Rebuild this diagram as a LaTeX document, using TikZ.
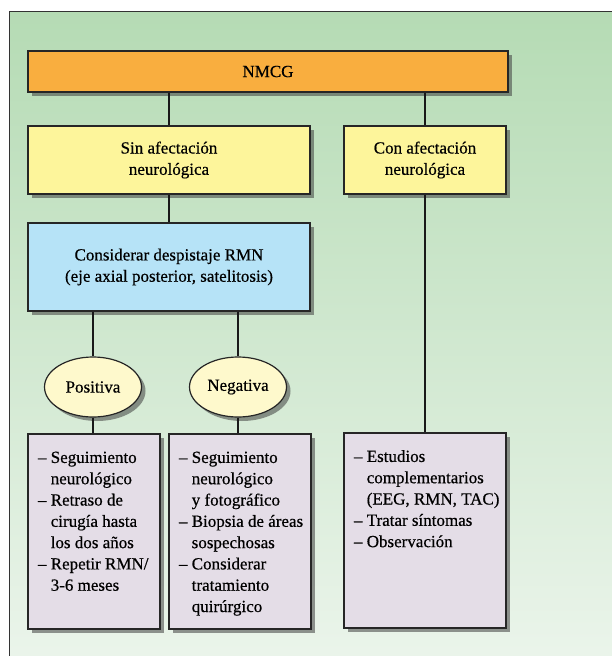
\documentclass[tikz,border=0pt]{standalone}
\usepackage{fontspec}
\setmainfont{Liberation Serif}[FakeBold=0.5]
\usetikzlibrary{shapes.geometric,shadows}

\definecolor{naranja}{HTML}{F9AE3F}
\definecolor{amarillo}{HTML}{FDF59B}
\definecolor{celeste}{HTML}{B6E3F7}
\definecolor{crema}{HTML}{FEF9CC}
\definecolor{lila}{HTML}{E4DDE7}
\definecolor{verdearriba}{HTML}{B5DBB4}
\definecolor{verdeabajo}{HTML}{EEF6EE}

\tikzset{
  sombra/.style={drop shadow={shadow xshift=4pt, shadow yshift=-4pt, opacity=.55, fill=black!75}},
  caja/.style={rectangle, draw=black!85, line width=1.2pt, align=center, sombra},
  ovalo/.style={ellipse, draw=black!85, line width=1.2pt, fill=crema,
    minimum width=97pt, minimum height=60pt, inner sep=0pt, sombra},
  lista/.style={caja, fill=lila, minimum height=195pt, inner xsep=10pt, inner ysep=0pt},
  linea/.style={line width=2pt, black!90}
}

\newcommand{\puntos}[2]{\parbox[c][195pt][t]{#1}{\vspace{14pt}\begin{tabular}{@{}l@{\ }l@{}}#2\end{tabular}}}

\begin{document}
\begin{tikzpicture}[x=1pt, y=-1pt, font=\fontsize{17}{21.3}\selectfont]

\useasboundingbox (0,0) rectangle (612,656);
\clip (0,0) rectangle (612,656);
\draw[top color=verdearriba, bottom color=verdeabajo, draw=black!80, line width=1pt] (9,11) rectangle (650,700);

\node[caja, fill=naranja, minimum width=480pt, minimum height=41pt] (nmcg) at (268,71.5) {NMCG};
\node[caja, fill=amarillo, minimum width=282pt, minimum height=68pt] (sin) at (169,160) {Sin afectación\\neurológica};
\node[caja, fill=amarillo, minimum width=162pt, minimum height=68pt] (con) at (425,160) {Con afectación\\neurológica};
\node[caja, fill=celeste, minimum width=282pt, minimum height=88pt] (rmn) at (169,267) {Considerar despistaje RMN\\(eje axial posterior, satelitosis)};
\node[ovalo] (pos) at (93,387) {Positiva};
\node[ovalo] (neg) at (238,387) {Negativa};

\node[lista, minimum width=132pt] (b1) at (94,531.5) {\puntos{112pt}{%
  -- & Seguimiento\\ & neurológico\\
  -- & Retraso de\\ & cirugía hasta\\ & los dos años\\
  -- & Repetir RMN/\\ & 3-6 meses}};
\node[lista, minimum width=142pt] (b2) at (240,531.5) {\puntos{122pt}{%
  -- & Seguimiento\\ & neurológico\\ & y fotográfico\\
  -- & Biopsia de áreas\\ & sospechosas\\
  -- & Considerar\\ & tratamiento\\ & quirúrgico}};
\node[lista, minimum width=162pt] (b3) at (425,530.5) {\puntos{142pt}{%
  -- & Estudios\\ & complementarios\\ & (EEG, RMN, TAC)\\
  -- & Tratar síntomas\\
  -- & Observación}};

\draw[linea] (nmcg.south -| sin.north) -- (sin.north);
\draw[linea] (nmcg.south -| con.north) -- (con.north);
\draw[linea] (sin) -- (rmn);
\draw[linea] (rmn.south -| pos.north) -- (pos.north);
\draw[linea] (rmn.south -| neg.north) -- (neg.north);
\draw[linea] (pos.south) -- (pos.south |- b1.north);
\draw[linea] (neg.south) -- (neg.south |- b2.north);
\draw[linea] (con) -- (b3);

\end{tikzpicture}
\end{document}
